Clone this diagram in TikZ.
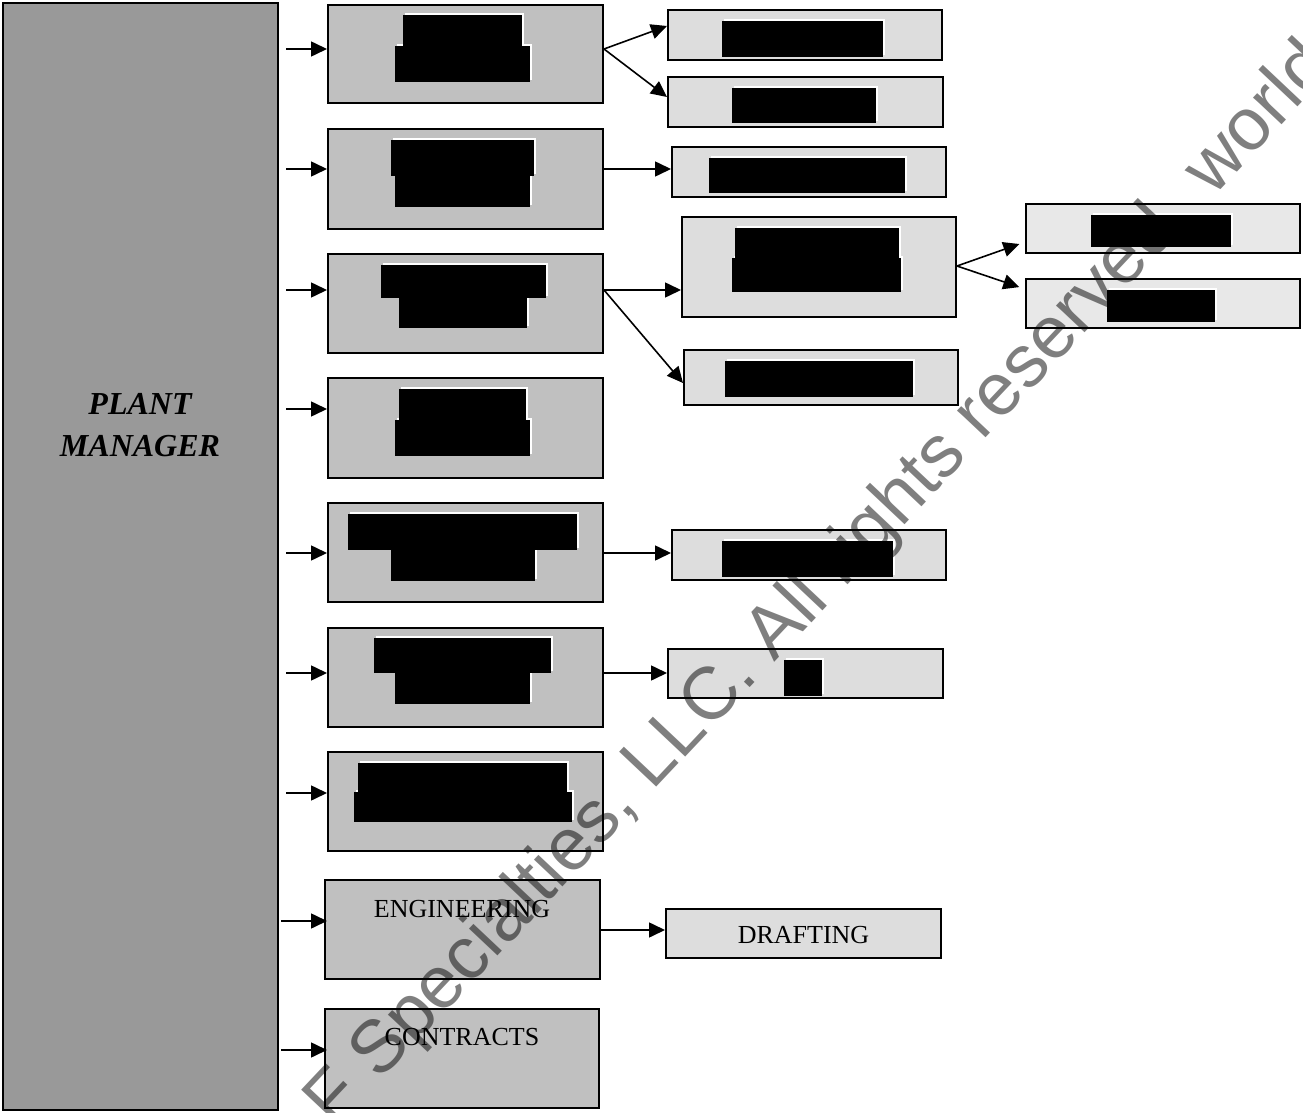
\documentclass[tikz,border=0pt]{standalone}
\usepackage{fontspec}
\setmainfont{Liberation Serif}
\newfontfamily\wmfont{Liberation Sans}
\usetikzlibrary{arrows.meta,fit}
\definecolor{pmgray}{HTML}{999999}
\definecolor{lvtwo}{HTML}{C0C0C0}
\definecolor{lvthree}{HTML}{DDDDDD}
\definecolor{lvfour}{HTML}{E8E8E8}
\begin{document}
\begin{tikzpicture}[x=0.5pt,y=-0.5pt,
  box/.style={draw=black, line width=1pt, inner sep=0pt},
  pmbox/.style={box, fill=pmgray},
  lvb/.style={box, fill=lvtwo},
  lvc/.style={box, fill=lvthree},
  lvd/.style={box, fill=lvfour},
  arr/.style={line width=0.8pt, -{Triangle[length=8pt,width=7.5pt]}},
  lbl/.style={font=\fontsize{13}{15}\selectfont, inner sep=0pt},
  wsh/.style={fill=white, shift={(2,-2)}},
]
\clip (0,0) rectangle (1303,1113);
\fill[white] (0,0) rectangle (1303,1113);

% plant manager
\node[pmbox, fit={(3,3)(278,1110)}] (pm) {};
\node[font=\fontsize{16}{21}\selectfont\bfseries\itshape, align=center, inner sep=0pt, anchor=north] (pmt) at (140,393) {PLANT\\MANAGER};

% level 2
\node[lvb, fit={(328,5)(603,103)}] (b1) {};
\node[lvb, fit={(328,129)(603,229)}] (b2) {};
\node[lvb, fit={(328,254)(603,353)}] (b3) {};
\node[lvb, fit={(328,378)(603,478)}] (b4) {};
\node[lvb, fit={(328,503)(603,602)}] (b5) {};
\node[lvb, fit={(328,628)(603,727)}] (b6) {};
\node[lvb, fit={(328,752)(603,851)}] (b7) {};
\node[lvb, fit={(325,880)(600,979)}] (b8) {};
\node[lvb, fit={(325,1009)(599,1108)}] (b9) {};

% level 3
\node[lvc, fit={(668,10)(942,60)}] (n11) {};
\node[lvc, fit={(668,77)(943,127)}] (n12) {};
\node[lvc, fit={(672,147)(946,197)}] (n21) {};
\node[lvc, fit={(682,217)(956,317)}] (n31) {};
\node[lvc, fit={(684,350)(958,405)}] (n32) {};
\node[lvc, fit={(672,530)(946,580)}] (n51) {};
\node[lvc, fit={(668,649)(943,698)}] (n61) {};
\node[lvc, fit={(666,909)(941,958)}] (n81) {};

% level 4
\node[lvd, fit={(1026,204)(1300,253)}] (n311) {};
\node[lvd, fit={(1026,279)(1300,328)}] (n312) {};

% connectors from plant manager
\foreach \n/\y in {b1/49,b2/169,b3/290,b4/409,b5/553,b6/673,b7/793}
  \draw[arr] ([xshift=3.5pt]pm.east |- 0,\y) -- (\n.west |- 0,\y);
\foreach \n/\y in {b8/921,b9/1050}
  \draw[arr, shorten >=-1.5pt] ([xshift=1pt]pm.east |- 0,\y) -- (\n.west |- 0,\y);

% connectors to right
\draw[arr] (b1.east |- 0,49) -- (n11.west |- 0,26);
\draw[arr] (b1.east |- 0,49) -- (n12.west |- 0,97);
\draw[arr] (b2.east |- 0,169) -- (n21.west |- 0,169);
\draw[arr] (b3.east |- 0,290) -- (n31.west |- 0,290);
\draw[arr] (b3.east |- 0,290) -- (n32.west |- 0,383);
\draw[arr, shorten >=3pt] (n31.east |- 0,266) -- (n311.west |- 0,242);
\draw[arr, shorten >=3pt] (n31.east |- 0,266) -- (n312.west |- 0,289);
\draw[arr] (b5.east |- 0,553) -- (n51.west |- 0,553);
\draw[arr] (b6.east |- 0,673) -- (n61.west |- 0,673);
\draw[arr] (b8.east |- 0,930) -- (n81.west |- 0,930);

% redaction blocks
\def\redlist{403/15/522/46, 395/46/530/82,
  391/140/534/176, 395/176/530/207,
  381/265/546/298, 399/298/527/328,
  399/389/526/420, 395/420/530/456,
  348/514/577/550, 391/550/535/581,
  374/638/551/673, 395/673/530/704,
  358/763/567/792, 354/792/572/822,
  722/21/883/57, 732/88/876/123, 709/158/905/193,
  735/228/899/258, 732/258/901/292, 725/361/913/397,
  1091/215/1231/247, 1107/290/1215/322,
  722/541/893/577, 784/660/822/696}
\foreach \xa/\ya/\xb/\yb in \redlist
  \fill[wsh] (\xa,\ya) rectangle (\xb,\yb);
\foreach \xa/\ya/\xb/\yb in \redlist
  \fill[black] (\xa,\ya) rectangle (\xb,\yb);

% labels
\node[lbl, anchor=base] (teng) at (462,917) {ENGINEERING};
\node[lbl, anchor=base] (tcon) at (462,1045) {CONTRACTS};
\node[lbl, anchor=base] (tdra) at (803.5,943) {DRAFTING};

% watermark
\node[font=\wmfont\fontsize{37}{40}\selectfont, text=black, text opacity=0.5,
  rotate=46.7, anchor=base west, inner sep=0pt] (wm) at (334,1130)
  {F Specialties, LLC. All rights reserved. worldwide};
\end{tikzpicture}
\end{document}
